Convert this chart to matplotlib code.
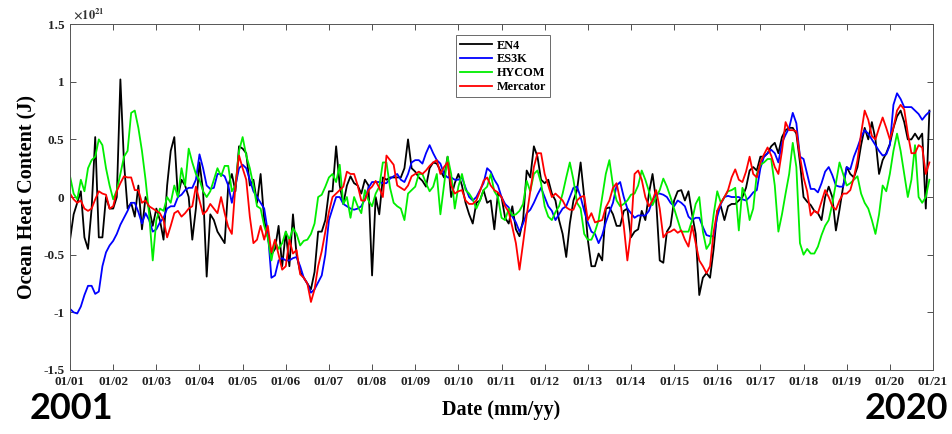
import numpy as np
import matplotlib
matplotlib.use('Agg')
import matplotlib.pyplot as plt

plt.rcParams['font.family'] = ['Liberation Serif', 'DejaVu Serif']
plt.rcParams['font.weight'] = 'bold'
plt.rcParams['mathtext.fontset'] = 'stix'

# monthly anomalies, units of 1e21 J, one row per year 2001..2020
en4 = [
    [-0.37, -0.15, -0.05, 0.05, -0.35, -0.45, -0.1, 0.52, -0.35, -0.35, 0.0, -0.1],
    [-0.1, 0.0, 1.02, 0.3, -0.1, -0.05, -0.17, 0.1, -0.28, 0.0, -0.1, -0.25],
    [-0.1, -0.2, -0.37, 0.1, 0.4, 0.52, 0.0, 0.15, 0.1, 0.0, -0.37, -0.1],
    [0.3, 0.05, -0.69, -0.15, -0.2, -0.3, -0.35, -0.4, 0.1, 0.2, 0.05, 0.44],
    [0.42, 0.38, 0.1, 0.15, -0.05, 0.2, -0.2, -0.35, -0.5, -0.45, -0.25, -0.6],
    [-0.3, -0.6, -0.15, -0.5, -0.65, -0.7, -0.75, -0.8, -0.65, -0.3, -0.3, -0.2],
    [0.05, 0.05, 0.44, 0.1, -0.06, 0.1, 0.18, 0.12, 0.1, 0.03, 0.15, 0.1],
    [-0.68, 0.0, -0.15, 0.17, 0.15, 0.17, 0.17, 0.17, 0.17, 0.25, 0.5, 0.25],
    [0.22, 0.17, 0.14, 0.09, 0.25, 0.3, 0.29, 0.23, 0.17, 0.35, 0.0, 0.12],
    [0.2, 0.1, -0.05, -0.15, -0.23, -0.05, -0.03, 0.06, -0.05, -0.03, -0.28, 0.03],
    [0.0, -0.18, -0.23, -0.08, -0.28, -0.34, -0.2, 0.23, 0.17, 0.44, 0.35, 0.15],
    [0.12, 0.15, 0.03, -0.03, -0.2, -0.32, -0.52, -0.23, -0.03, 0.06, 0.3, 0.0],
    [-0.37, -0.6, -0.6, -0.49, -0.55, -0.1, -0.09, -0.15, -0.25, -0.25, -0.12, -0.1],
    [-0.35, -0.3, -0.28, -0.12, -0.2, 0.03, 0.2, -0.03, -0.55, -0.57, -0.3, -0.25],
    [-0.03, 0.05, 0.06, -0.03, 0.05, -0.15, -0.32, -0.85, -0.7, -0.66, -0.7, -0.45],
    [-0.12, -0.08, -0.2, -0.08, -0.06, -0.06, -0.03, 0.0, 0.08, 0.23, 0.26, 0.23],
    [0.35, 0.35, 0.38, 0.44, 0.47, 0.38, 0.52, 0.58, 0.6, 0.6, 0.55, 0.3],
    [0.0, -0.04, -0.07, -0.12, -0.14, -0.2, 0.0, 0.09, 0.0, -0.29, -0.11, 0.09],
    [0.26, 0.2, 0.17, 0.26, 0.45, 0.6, 0.5, 0.65, 0.5, 0.2, 0.32, 0.38],
    [0.46, 0.6, 0.7, 0.75, 0.65, 0.5, 0.5, 0.55, 0.5, 0.55, -0.1, 0.75],
]

es3k = [
    [-0.97, -1.0, -1.01, -0.95, -0.85, -0.77, -0.77, -0.84, -0.82, -0.6, -0.48, -0.42],
    [-0.38, -0.32, -0.24, -0.18, -0.12, -0.05, -0.05, -0.13, -0.23, -0.14, -0.2, -0.3],
    [-0.28, -0.22, -0.18, -0.1, -0.08, -0.08, 0.0, 0.02, 0.06, 0.08, 0.08, 0.15],
    [0.37, 0.25, 0.1, 0.07, 0.08, 0.2, 0.2, 0.18, 0.1, -0.05, 0.1, 0.25],
    [0.28, 0.25, 0.15, 0.05, 0.0, -0.05, -0.1, -0.3, -0.7, -0.68, -0.55, -0.53],
    [-0.55, -0.55, -0.53, -0.52, -0.6, -0.7, -0.75, -0.83, -0.8, -0.74, -0.68, -0.5],
    [-0.2, -0.1, 0.0, 0.0, -0.06, -0.08, -0.1, -0.11, -0.1, -0.08, -0.02, 0.08],
    [0.13, 0.13, 0.13, 0.12, 0.12, 0.16, 0.18, 0.2, 0.15, 0.13, 0.2, 0.3],
    [0.32, 0.32, 0.29, 0.38, 0.45, 0.38, 0.32, 0.29, 0.2, 0.17, 0.17, 0.15],
    [0.15, 0.17, 0.08, 0.0, -0.03, 0.0, 0.06, 0.12, 0.25, 0.22, 0.15, 0.1],
    [0.0, -0.06, -0.09, -0.17, -0.22, -0.3, -0.23, -0.14, -0.11, -0.05, 0.02, 0.08],
    [0.0, -0.08, -0.12, -0.2, -0.15, -0.1, -0.08, 0.0, 0.08, 0.09, 0.0, -0.12],
    [-0.22, -0.3, -0.32, -0.4, -0.33, -0.22, -0.13, -0.05, 0.1, 0.13, 0.0, -0.1],
    [-0.14, -0.18, -0.16, -0.16, -0.16, -0.12, -0.03, 0.03, 0.03, 0.02, 0.0, -0.05],
    [-0.08, -0.03, -0.05, -0.08, -0.17, -0.2, -0.18, -0.18, -0.26, -0.33, -0.34, -0.34],
    [-0.17, -0.06, 0.0, 0.01, 0.0, 0.0, 0.0, -0.02, -0.03, 0.0, 0.04, 0.06],
    [0.25, 0.35, 0.38, 0.41, 0.38, 0.3, 0.47, 0.54, 0.6, 0.73, 0.64, 0.35],
    [0.33, 0.2, 0.07, 0.07, 0.04, 0.12, 0.22, 0.26, 0.19, 0.1, 0.09, 0.09],
    [0.26, 0.24, 0.35, 0.43, 0.52, 0.58, 0.55, 0.5, 0.45, 0.4, 0.36, 0.37],
    [0.45, 0.8, 0.9, 0.85, 0.78, 0.78, 0.78, 0.75, 0.72, 0.67, 0.71, 0.74],
]

hycom = [
    [0.18, 0.03, -0.02, 0.15, 0.05, 0.25, 0.32, 0.35, 0.5, 0.45, 0.25, 0.1],
    [-0.02, 0.06, 0.2, 0.35, 0.4, 0.73, 0.75, 0.6, 0.4, 0.15, -0.15, -0.55],
    [-0.2, -0.1, -0.12, 0.0, -0.05, 0.1, 0.0, 0.25, 0.1, 0.42, 0.3, 0.2],
    [0.15, 0.05, 0.0, 0.05, 0.15, 0.25, 0.18, 0.27, 0.27, 0.05, 0.1, 0.4],
    [0.52, 0.36, 0.25, 0.1, -0.08, -0.1, -0.25, -0.35, -0.55, -0.38, -0.45, -0.4],
    [-0.3, -0.37, -0.27, -0.32, -0.42, -0.38, -0.37, -0.32, -0.23, 0.0, 0.02, 0.09],
    [0.17, 0.2, 0.13, 0.28, -0.06, 0.0, -0.18, 0.0, -0.08, -0.14, 0.06, -0.03],
    [-0.08, 0.03, 0.09, 0.3, 0.3, 0.08, -0.05, -0.08, -0.1, -0.2, 0.03, 0.06],
    [0.09, 0.2, 0.2, 0.12, 0.05, 0.09, 0.2, -0.15, 0.1, 0.35, 0.2, -0.1],
    [0.09, 0.2, 0.06, 0.03, -0.02, -0.1, -0.03, 0.06, 0.09, 0.2, 0.05, 0.0],
    [-0.18, -0.2, -0.1, -0.16, -0.15, -0.12, -0.06, 0.14, 0.05, 0.2, 0.23, 0.12],
    [-0.08, -0.17, -0.2, -0.13, -0.08, 0.03, 0.17, 0.3, 0.15, -0.05, -0.1, -0.32],
    [-0.37, -0.37, -0.3, -0.2, 0.0, 0.2, 0.32, 0.1, -0.03, -0.08, -0.06, -0.03],
    [0.02, 0.03, 0.1, 0.23, 0.15, 0.05, -0.07, 0.0, 0.06, 0.16, 0.09, 0.0],
    [-0.1, -0.2, -0.3, -0.3, -0.3, -0.2, -0.06, 0.0, -0.3, -0.45, -0.4, -0.15],
    [0.05, -0.05, 0.0, 0.05, 0.06, 0.08, -0.29, 0.08, 0.0, -0.2, -0.1, 0.2],
    [0.28, 0.3, 0.33, 0.33, 0.1, -0.3, -0.15, 0.03, 0.2, 0.47, 0.26, -0.4],
    [-0.5, -0.45, -0.49, -0.49, -0.43, -0.33, -0.25, -0.2, -0.06, 0.12, 0.3, 0.2],
    [0.1, 0.12, 0.15, 0.18, 0.03, -0.05, -0.1, -0.2, -0.32, -0.15, 0.1, 0.05],
    [0.2, 0.4, 0.55, 0.4, 0.2, 0.0, 0.15, 0.45, 0.0, -0.05, 0.0, 0.15],
]

mercator = [
    [0.03, -0.02, -0.05, -0.03, -0.1, -0.12, -0.1, -0.02, 0.05, 0.03, 0.02, -0.1],
    [-0.08, 0.05, 0.12, 0.18, 0.17, 0.17, 0.06, 0.06, -0.05, -0.03, -0.08, -0.1],
    [-0.12, -0.14, -0.2, -0.35, -0.25, -0.14, -0.12, -0.17, -0.14, -0.1, -0.08, 0.09],
    [-0.03, -0.15, -0.12, -0.06, -0.1, -0.14, 0.0, -0.14, -0.26, -0.32, 0.1, 0.36],
    [0.25, 0.15, -0.17, -0.4, -0.37, -0.25, -0.37, -0.25, -0.48, -0.37, -0.5, -0.63],
    [-0.6, -0.37, -0.49, -0.46, -0.67, -0.7, -0.75, -0.91, -0.8, -0.6, -0.47, -0.3],
    [-0.13, 0.0, 0.03, 0.06, 0.09, 0.22, 0.2, 0.2, 0.1, -0.03, -0.03, 0.06],
    [0.09, 0.14, 0.08, 0.0, 0.36, 0.32, 0.28, 0.1, 0.08, 0.06, 0.1, 0.18],
    [0.2, 0.22, 0.2, 0.23, 0.27, 0.3, 0.32, 0.2, 0.26, 0.3, 0.1, 0.03],
    [0.05, 0.06, -0.03, -0.06, -0.06, -0.03, 0.05, 0.14, 0.17, 0.1, 0.06, 0.04],
    [0.0, -0.08, -0.13, -0.26, -0.4, -0.63, -0.4, -0.16, 0.05, 0.26, 0.38, 0.38],
    [0.2, 0.1, 0.0, 0.03, 0.0, -0.03, -0.09, -0.11, -0.11, -0.03, 0.0, 0.01],
    [-0.2, -0.14, -0.22, -0.21, -0.2, -0.09, -0.03, 0.08, 0.12, -0.03, -0.25, -0.55],
    [-0.3, 0.2, 0.23, 0.15, 0.0, -0.08, -0.03, 0.06, -0.1, -0.35, -0.31, -0.3],
    [-0.28, -0.31, -0.29, -0.37, -0.43, -0.25, -0.4, -0.55, -0.6, -0.66, -0.6, -0.3],
    [-0.12, -0.05, 0.0, 0.06, 0.17, 0.24, 0.15, 0.13, 0.22, 0.35, 0.2, 0.17],
    [0.3, 0.37, 0.43, 0.36, 0.26, 0.2, 0.4, 0.65, 0.58, 0.58, 0.57, 0.35],
    [0.17, 0.05, -0.16, -0.12, -0.14, -0.04, 0.06, 0.0, -0.08, -0.11, -0.03, 0.03],
    [0.03, 0.06, 0.17, 0.32, 0.55, 0.75, 0.67, 0.53, 0.5, 0.6, 0.69, 0.6],
    [0.5, 0.6, 0.75, 0.8, 0.76, 0.55, 0.38, 0.38, 0.45, 0.43, 0.2, 0.3],
]

names = ['EN4', 'ES3K', 'HYCOM', 'Mercator']
colors = ['#000000', '#0000ff', '#00ee00', '#ff0000']
xtick_labels = ['01/%02d' % (y % 100) for y in range(2001, 2022)]
ytick_vals = [-1.5, -1, -0.5, 0, 0.5, 1, 1.5]
ytick_labels = ['-1.5', '-1', '-0.5', '0', '0.5', '1', '1.5']

t = 2001 + np.arange(240) / 12.0

fig = plt.figure(figsize=(9.53, 4.34), dpi=100)
ax = fig.add_axes([0.0735, 0.1475, 0.9055, 0.797])

for series, name, c in zip([en4, es3k, hycom, mercator], names, colors):
    ax.plot(t, np.array(series).ravel(), color=c, lw=1.3, label=name)

ax.set_xlim(2001, 2021)
ax.set_ylim(-1.5, 1.5)
ax.set_xticks(range(2001, 2022))
ax.set_xticklabels(xtick_labels, fontsize=9.5, fontweight='bold')
ax.set_yticks(ytick_vals)
ax.set_yticklabels(ytick_labels, fontsize=9.5, fontweight='bold')
ax.tick_params(direction='in', top=True, right=True, length=4, width=0.6,
               colors='#333333', labelcolor='#222222', pad=4)
for s in ax.spines.values():
    s.set_color('#555555')
    s.set_linewidth(0.7)

ax.set_xlabel('Date (mm/yy)', fontsize=14.5, fontweight='bold', labelpad=9)
ax.set_ylabel('Ocean Heat Content (J)', fontsize=14.5, fontweight='bold', labelpad=4)
ax.text(0.003, 1.006, r'$\times10^{21}$', transform=ax.transAxes,
        fontsize=9, ha='left', va='bottom', color='#333333')

leg = ax.legend(loc='upper left', bbox_to_anchor=(0.44, 0.985), fontsize=8.8,
                frameon=True, fancybox=False, handlelength=2.6, borderpad=0.35,
                labelspacing=0.15, handletextpad=0.4)
leg.get_frame().set_edgecolor('#444444')
leg.get_frame().set_linewidth(0.7)
for txt in leg.get_texts():
    txt.set_fontweight('bold')

fig.text(0.075, 0.02, '2001', fontsize=26, fontweight='bold', ha='center',
         va='bottom', family=['Lato', 'DejaVu Sans'])
fig.text(0.951, 0.02, '2020', fontsize=26, fontweight='bold', ha='center',
         va='bottom', family=['Lato', 'DejaVu Sans'])

fig.savefig('out.png', dpi=100)
